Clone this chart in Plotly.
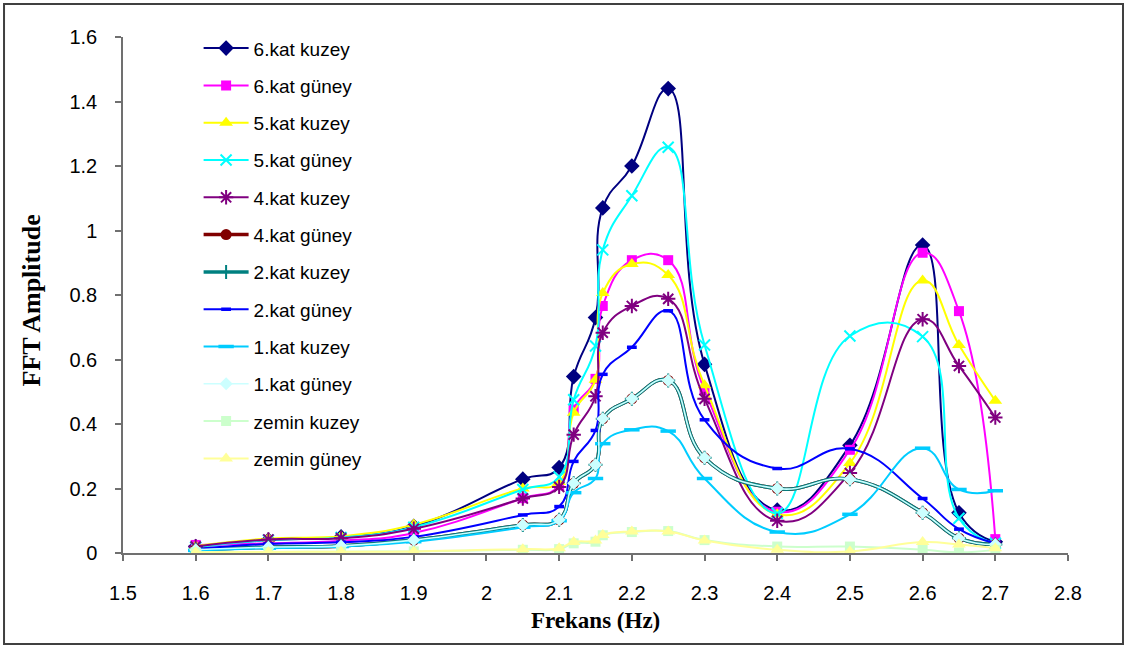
import plotly.graph_objects as go

# Frequency samples (Hz)
freq = [1.6, 1.7, 1.8, 1.9, 2.05, 2.1, 2.12, 2.15, 2.16, 2.2, 2.25, 2.3, 2.4, 2.5, 2.6, 2.65, 2.7]

# FFT amplitudes per floor / side
kat6_kuzey = [0.020, 0.040, 0.050, 0.083, 0.229, 0.265, 0.547, 0.730, 1.070, 1.200, 1.440, 0.585, 0.133, 0.334, 0.955, 0.125, 0.035]
kat6_guney = [0.025, 0.030, 0.038, 0.062, 0.170, 0.210, 0.445, 0.540, 0.766, 0.908, 0.908, 0.505, 0.128, 0.320, 0.931, 0.750, 0.043]
kat5_kuzey = [0.022, 0.045, 0.052, 0.088, 0.200, 0.220, 0.435, 0.537, 0.806, 0.896, 0.862, 0.520, 0.120, 0.279, 0.845, 0.645, 0.472]
kat5_guney = [0.018, 0.040, 0.048, 0.080, 0.197, 0.236, 0.475, 0.642, 0.940, 1.108, 1.258, 0.645, 0.123, 0.673, 0.671, 0.108, 0.030]
kat4_kuzey = [0.020, 0.042, 0.046, 0.075, 0.169, 0.205, 0.367, 0.486, 0.683, 0.766, 0.788, 0.478, 0.100, 0.248, 0.725, 0.580, 0.420]
kat4_guney = [0.010, 0.018, 0.022, 0.040, 0.087, 0.103, 0.216, 0.274, 0.416, 0.478, 0.535, 0.295, 0.200, 0.229, 0.125, 0.046, 0.026]
kat2_kuzey = [0.010, 0.018, 0.022, 0.040, 0.087, 0.103, 0.216, 0.274, 0.416, 0.478, 0.535, 0.295, 0.200, 0.229, 0.125, 0.046, 0.026]
kat2_guney = [0.012, 0.028, 0.033, 0.050, 0.118, 0.144, 0.284, 0.380, 0.554, 0.638, 0.751, 0.413, 0.262, 0.323, 0.169, 0.074, 0.030]
kat1_kuzey = [0.008, 0.015, 0.020, 0.035, 0.080, 0.100, 0.187, 0.231, 0.339, 0.382, 0.378, 0.231, 0.065, 0.120, 0.325, 0.197, 0.193]
kat1_guney = [0.010, 0.018, 0.022, 0.040, 0.087, 0.103, 0.216, 0.274, 0.416, 0.478, 0.535, 0.295, 0.200, 0.229, 0.125, 0.046, 0.026]
zemin_kuzey = [0.002, 0.003, 0.004, 0.005, 0.010, 0.012, 0.030, 0.035, 0.055, 0.065, 0.068, 0.040, 0.020, 0.020, 0.010, 0.002, 0.010]
zemin_guney = [0.002, 0.003, 0.004, 0.005, 0.012, 0.015, 0.034, 0.039, 0.056, 0.067, 0.067, 0.039, 0.010, 0.005, 0.034, 0.026, 0.015]

x_tickvals = [1.5, 1.6, 1.7, 1.8, 1.9, 2.0, 2.1, 2.2, 2.3, 2.4, 2.5, 2.6, 2.7, 2.8]
x_ticktext = ["1.5", "1.6", "1.7", "1.8", "1.9", "2", "2.1", "2.2", "2.3", "2.4", "2.5", "2.6", "2.7", "2.8"]
y_tickvals = [0, 0.2, 0.4, 0.6, 0.8, 1.0, 1.2, 1.4, 1.6]
y_ticktext = ["0", "0.2", "0.4", "0.6", "0.8", "1", "1.2", "1.4", "1.6"]

# name, values, color, marker symbol, marker size, line width
series = [
    ("6.kat kuzey", kat6_kuzey, "#000080", "diamond", 12, 2),
    ("6.kat güney", kat6_guney, "#FF00FF", "square", 10, 2),
    ("5.kat kuzey", kat5_kuzey, "#FFFF00", "triangle-up", 12, 2),
    ("5.kat güney", kat5_guney, "#00FFFF", "x-thin", 11, 2),
    ("4.kat kuzey", kat4_kuzey, "#800080", "asterisk", 12, 2),
    ("4.kat güney", kat4_guney, "#800000", "circle", 11, 3.5),
    ("2.kat kuzey", kat2_kuzey, "#008080", "cross-thin", 10, 3.5),
    ("2.kat güney", kat2_guney, "#0000FF", "line-ew", 7, 2),
    ("1.kat kuzey", kat1_kuzey, "#00CCFF", "line-ew", 11, 2),
    ("1.kat güney", kat1_guney, "#CCFFFF", "diamond", 10, 1.6),
    ("zemin kuzey", zemin_kuzey, "#CCFFCC", "square", 10, 2),
    ("zemin güney", zemin_guney, "#FFFF99", "triangle-up", 12, 2),
]

open_symbols = {"x-thin", "asterisk", "cross-thin", "line-ew"}

fig = go.Figure()
for i, (name, vals, color, sym, size, lw) in enumerate(series):
    if sym in open_symbols:
        mk = dict(symbol=sym, size=size, color=color,
                  line=dict(color=color, width=3.5 if sym == "line-ew" else 2))
    else:
        mk = dict(symbol=sym, size=size, color=color, line=dict(width=0))
    fig.add_trace(go.Scatter(
        x=freq, y=vals, name=name, mode="lines+markers",
        line=dict(color=color, width=lw, shape="spline", smoothing=1.3),
        marker=mk, legendgroup=f"g{i}",
    ))

serif = "Liberation Serif, Times New Roman, serif"
sans = "Liberation Sans, Arial, sans-serif"

fig.update_layout(
    width=1130, height=648,
    margin=dict(l=123, r=62, t=37, b=95),
    paper_bgcolor="white", plot_bgcolor="white",
    font=dict(family=sans, size=20, color="black"),
    showlegend=True,
    legend=dict(
        x=0.08, y=1.015, xanchor="left", yanchor="top",
        bgcolor="rgba(255,255,255,0)", borderwidth=0,
        font=dict(family=sans, size=19, color="black"),
        tracegroupgap=9.6, itemwidth=45, maxheight=640,
    ),
    xaxis=dict(
        range=[1.5, 2.8], tickvals=x_tickvals, ticktext=x_ticktext,
        showgrid=False, zeroline=False, showline=True, linecolor="#707070", linewidth=1.5,
        ticks="outside", ticklen=6, tickcolor="#707070", tickwidth=1.5,
        ticklabelstandoff=15, tickfont=dict(family=sans, size=20),
    ),
    yaxis=dict(
        range=[0, 1.6], tickvals=y_tickvals, ticktext=y_ticktext,
        showgrid=False, zeroline=False, showline=True, linecolor="#707070", linewidth=1.5,
        ticks="outside", ticklen=6, tickcolor="#707070", tickwidth=1.5,
        ticklabelstandoff=14, tickfont=dict(family=sans, size=20),
    ),
    annotations=[
        dict(text="<b>Frekans (Hz)</b>", xref="paper", yref="paper", x=0.5, y=-0.13,
             xanchor="center", yanchor="middle",
             showarrow=False, font=dict(family=serif, size=23)),
        dict(text="<b>FFT Amplitude</b>", xref="paper", yref="paper", x=-0.097, y=0.49,
             xanchor="center", yanchor="middle",
             textangle=-90, showarrow=False, font=dict(family=serif, size=26)),
    ],
    shapes=[
        dict(type="rect", xref="paper", yref="paper",
             x0=-0.1259, x1=1.0582, y0=-0.1764, y1=1.064,
             line=dict(color="#404040", width=2), fillcolor="rgba(0,0,0,0)", layer="below"),
    ],
)

fig.write_html("out.html")
